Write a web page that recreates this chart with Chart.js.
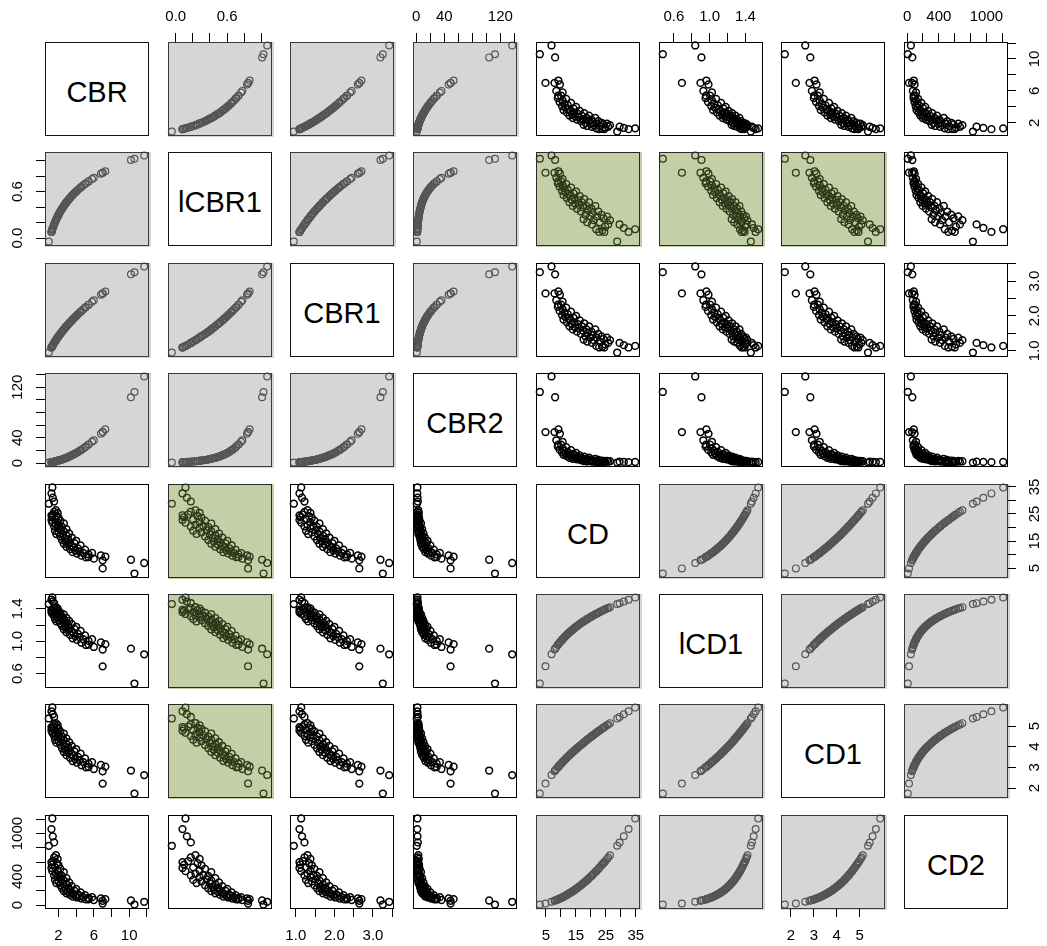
<!DOCTYPE html>
<html>
<head>
<meta charset="utf-8">
<title>Scatterplot matrix: CBR and CD</title>
<script src="https://cdn.jsdelivr.net/npm/chart.js@4.4.1/dist/chart.umd.min.js"></script>
<style>
  html, body { margin: 0; padding: 0; background: #fff; }
  #matrix { position: relative; width: 1047px; height: 946px; overflow: hidden; background: #fff; }
  #matrix canvas { position: absolute; }
  .diag {
    position: absolute; box-sizing: border-box; border: 1px solid #111; background: #fff;
    display: flex; align-items: center; justify-content: center; padding-top: 6px;
    font-family: 'Liberation Sans', Arial, Helvetica, sans-serif; font-size: 29px; color: #000;
  }
</style>
</head>
<body>
<div id="matrix"></div>
<script>
// ---- measured observations (CD and CBR, one entry per sample) ----
const cd = [3.0, 4.9, 6.9, 8.1, 10.6, 8.5, 7.9, 9.2, 9.7, 9.1,
            9.0, 9.6, 10.1, 10.4, 10.6, 10.9, 11.2, 11.5, 11.8, 12.0,
            12.3, 12.6, 12.9, 13.2, 13.4, 13.7, 14.0, 14.2, 14.5, 14.8,
            15.1, 15.4, 15.7, 16.0, 16.3, 16.7, 17.0, 17.4, 17.6, 17.8,
            18.2, 18.6, 18.8, 19.0, 19.4, 19.8, 20.2, 20.4, 20.6, 21.0,
            21.5, 21.8, 22.0, 22.5, 22.8, 23.0, 23.6, 23.8, 24.2, 24.5,
            24.8, 25.4, 25.8, 26.4, 28.8, 29.6, 31.0, 32.6, 34.8];
const cbr = [10.6, 7.0, 11.7, 10.2, 5.8, 6.0, 7.0, 7.3, 6.8, 5.4,
             5.1, 4.6, 5.4, 4.1, 4.8, 3.6, 4.4, 3.9, 5.0, 3.3,
             4.2, 3.7, 2.9, 3.5, 4.5, 3.1, 2.6, 3.8, 3.3, 2.8,
             4.0, 2.4, 3.1, 2.7, 3.5, 2.2, 2.9, 2.5, 1.75, 3.2,
             2.0, 2.6, 1.6, 2.3, 2.9, 1.9, 2.4, 1.5, 2.1, 1.7,
             2.6, 1.3, 1.9, 2.2, 1.2, 1.6, 2.0, 1.25, 1.8, 1.2,
             1.4, 1.9, 1.5, 1.7, 0.9, 1.5, 1.35, 1.2, 1.3];

// transformed columns: l* = log10, *1 = square root, *2 = square
const lcbr1 = cbr.map(v => Math.log10(v));
const cbr1  = cbr.map(v => Math.sqrt(v));
const cbr2  = cbr.map(v => v * v);
const lcd1  = cd.map(v => Math.log10(v));
const cd1   = cd.map(v => Math.sqrt(v));
const cd2   = cd.map(v => v * v);

const varNames = ['CBR', 'lCBR1', 'CBR1', 'CBR2', 'CD', 'lCD1', 'CD1', 'CD2'];

// ---- axis ticks (marks) and which of them carry a label ----
const cbrTicks   = [2, 4, 6, 8, 10, 12];
const cbrLabels  = ['2', '', '6', '', '10', ''];
const lcbrTicks  = [0, 0.2, 0.4, 0.6, 0.8, 1.0];
const lcbrLabels = ['0.0', '', '', '0.6', '', ''];
const cbr1Ticks  = [1.0, 1.5, 2.0, 2.5, 3.0, 3.5];
const cbr1Labels = ['1.0', '', '2.0', '', '3.0', ''];
const cbr2Ticks  = [0, 20, 40, 60, 80, 100, 120, 140];
const cbr2Labels = ['0', '', '40', '', '', '', '120', ''];
const cdTicks    = [5, 10, 15, 20, 25, 30, 35];
const cdLabels   = ['5', '', '15', '', '25', '', '35'];
const lcdTicks   = [0.6, 0.8, 1.0, 1.2, 1.4];
const lcdLabels  = ['0.6', '', '1.0', '', '1.4'];
const cd1Ticks   = [2, 3, 4, 5];
const cd1Labels  = ['2', '3', '4', '5'];
const cd2Ticks   = [0, 200, 400, 600, 800, 1000, 1200];
const cd2Labels  = ['0', '', '400', '', '', '1000', ''];

const columns = [cbr, lcbr1, cbr1, cbr2, cd, lcd1, cd1, cd2];
const tickSets = [
  { values: cbrTicks,  labels: cbrLabels },
  { values: lcbrTicks, labels: lcbrLabels },
  { values: cbr1Ticks, labels: cbr1Labels },
  { values: cbr2Ticks, labels: cbr2Labels },
  { values: cdTicks,   labels: cdLabels },
  { values: lcdTicks,  labels: lcdLabels },
  { values: cd1Ticks,  labels: cd1Labels },
  { values: cd2Ticks,  labels: cd2Labels }
];

// ---- page layout ----
const FONT = "'Liberation Sans', Arial, Helvetica, sans-serif";
const TICK_FONT_SIZE = 15;
const M = 45;                 // canvas margin around each panel (room for axes)
const PW = 103, PH = 93;      // panel box size
const colLeft = [45, 168, 290, 413, 536, 659, 781, 904];
const rowTop  = [42, 152, 263, 373, 484, 594, 704, 815];
const TICK_LEN = 9;

Chart.defaults.font.family = FONT;

const styles = {
  same:  { fill: '#d6d6d6', point: '#555555', stroke: '#3a3a3a', width: 1.2 },
  green: { fill: '#c3cfa6', point: '#2c3819', stroke: '#2a2a2a', width: 1.3 },
  plain: { fill: null,      point: '#000000', stroke: '#000000', width: 1.5 }
};

function panelKind(i, j) {
  const gi = i < 4 ? 0 : 1, gj = j < 4 ? 0 : 1;
  if (gi === gj) return 'same';
  if ((i === 1 && j >= 4 && j <= 6) || (j === 1 && i >= 4 && i <= 6)) return 'green';
  return 'plain';
}

function paddedRange(arr) {
  const lo = Math.min(...arr), hi = Math.max(...arr), pad = 0.04 * (hi - lo);
  return [lo - pad, hi + pad];
}
const ranges = columns.map(paddedRange);

const measureCtx = document.createElement('canvas').getContext('2d');
measureCtx.font = TICK_FONT_SIZE + 'px ' + FONT;
function widestLabel(labels) {
  return Math.max(0, ...labels.map(s => measureCtx.measureText(s).width));
}

// panel background and box
const panelFrame = {
  id: 'panelFrame',
  beforeDraw(chart, args, opts) {
    if (!opts.fill) return;
    const a = chart.chartArea, ctx = chart.ctx;
    ctx.save();
    ctx.fillStyle = opts.fill;
    ctx.fillRect(a.left, a.top, a.right - a.left + 3, a.bottom - a.top + 2);
    ctx.restore();
  },
  afterDraw(chart, args, opts) {
    const a = chart.chartArea, ctx = chart.ctx;
    ctx.save();
    ctx.strokeStyle = opts.stroke;
    ctx.lineWidth = 1;
    ctx.strokeRect(a.left + 0.5, a.top + 0.5, a.right - a.left, a.bottom - a.top);
    ctx.restore();
  }
};

function scaleOptions(v, horizontal, position, show) {
  const set = tickSets[v];
  let padding = 0, rotation = 0, crossAlign = 'near';
  if (horizontal) {
    padding = position === 'top' ? 7 : 10;
  } else {
    rotation = 90;
    crossAlign = 'center';
    const w = widestLabel(set.labels);
    padding = (position === 'left' ? 27 : 28) - TICK_LEN - w / 2;
  }
  return {
    type: 'linear',
    position: position,
    min: ranges[v][0],
    max: ranges[v][1],
    bounds: 'data',
    afterBuildTicks: s => { s.ticks = set.values.map(value => ({ value })); },
    afterFit: s => { if (horizontal) s.height = M; else s.width = M; },
    grid: {
      display: show, drawOnChartArea: false, drawTicks: true,
      tickLength: TICK_LEN, color: '#000', tickColor: '#000', tickWidth: 1
    },
    border: { display: false },
    ticks: {
      display: show, autoSkip: false, color: '#000',
      font: { family: FONT, size: TICK_FONT_SIZE },
      padding: padding, minRotation: rotation, maxRotation: rotation,
      crossAlign: crossAlign,
      callback: (value, index) => set.labels[index]
    }
  };
}

const host = document.getElementById('matrix');

for (let i = 0; i < 8; i++) {
  for (let j = 0; j < 8; j++) {
    if (i === j) {
      const d = document.createElement('div');
      d.className = 'diag';
      d.style.left = colLeft[j] + 'px';
      d.style.top = rowTop[i] + 'px';
      d.style.width = (PW + 1) + 'px';
      d.style.height = (PH + 1) + 'px';
      d.textContent = varNames[i];
      host.appendChild(d);
      continue;
    }
    const canvas = document.createElement('canvas');
    canvas.width = PW + 2 * M;
    canvas.height = PH + 2 * M;
    canvas.style.left = (colLeft[j] - M) + 'px';
    canvas.style.top = (rowTop[i] - M) + 'px';
    host.appendChild(canvas);

    const xTop = (i === 0 && j % 2 === 1);
    const xShow = xTop || (i === 7 && j % 2 === 0);
    const yRight = (j === 7 && i % 2 === 0);
    const yShow = yRight || (j === 0 && i % 2 === 1);
    const xPos = xTop ? 'top' : 'bottom';
    const yPos = yRight ? 'right' : 'left';

    const kind = panelKind(i, j);
    const st = styles[kind];
    const xs = columns[j], ys = columns[i];
    const pts = xs.map((x, k) => ({ x: x, y: ys[k] }));

    new Chart(canvas, {
      type: 'scatter',
      data: {
        datasets: [{
          data: pts,
          pointRadius: 3.4,
          pointBorderWidth: st.width,
          pointBorderColor: st.point,
          pointBackgroundColor: 'rgba(0,0,0,0)',
          showLine: false,
          clip: false
        }]
      },
      options: {
        responsive: false,
        maintainAspectRatio: false,
        devicePixelRatio: 1,
        animation: false,
        events: [],
        layout: {
          padding: {
            top: xTop ? 0 : M,
            bottom: xTop ? M : 0,
            left: yRight ? M : 0,
            right: yRight ? 0 : M
          }
        },
        plugins: {
          legend: { display: false },
          tooltip: { enabled: false },
          panelFrame: { fill: st.fill, stroke: st.stroke }
        },
        scales: {
          x: scaleOptions(j, true, xPos, xShow),
          y: scaleOptions(i, false, yPos, yShow)
        }
      },
      plugins: [panelFrame]
    });
  }
}
</script>
</body>
</html>
